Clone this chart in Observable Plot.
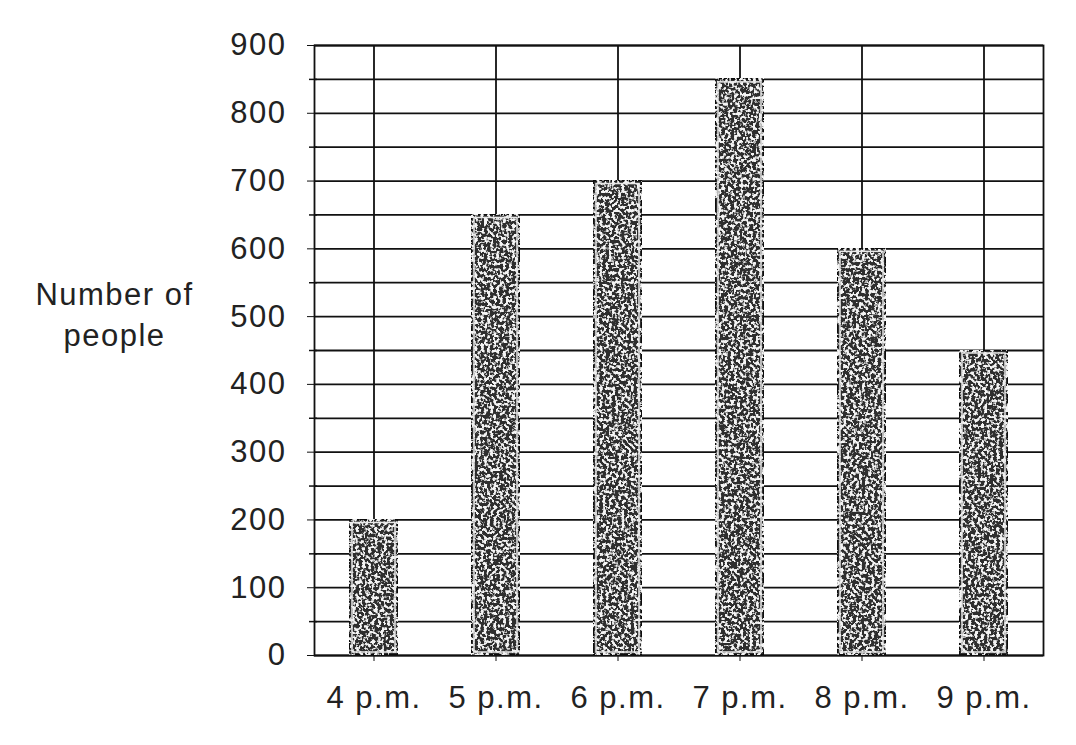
<!DOCTYPE html>
<html>
<head>
<meta charset="utf-8">
<script src="https://cdn.jsdelivr.net/npm/d3@7"></script>
<script src="https://cdn.jsdelivr.net/npm/@observablehq/plot@0.6"></script>
<style>
  html, body { margin: 0; padding: 0; background: #fff; }
  #chart { width: 1076px; height: 745px; }
  #chart svg text { letter-spacing: 1.5px; }
</style>
</head>
<body>
<div id="chart"></div>
<script>
const times = ["4 p.m.", "5 p.m.", "6 p.m.", "7 p.m.", "8 p.m.", "9 p.m."];
const people = [200, 650, 700, 850, 600, 450];
const majorTicks = [0, 100, 200, 300, 400, 500, 600, 700, 800, 900];
const minorTicks = [50, 150, 250, 350, 450, 550, 650, 750, 850];
const gridValues = [0, 50, 100, 150, 200, 250, 300, 350, 400, 450, 500, 550, 600, 650, 700, 750, 800, 850, 900];
const yLabel = "Number of\npeople";

const data = times.map((t, i) => ({time: t, people: people[i]}));

const chart = Plot.plot({
  width: 1076,
  height: 745,
  marginLeft: 314,
  marginRight: 33,
  marginTop: 45,
  marginBottom: 90,
  style: {fontFamily: "'Liberation Sans', Arial, sans-serif", fontSize: "31px", color: "#222", background: "#fff"},
  x: {domain: times, paddingInner: 0.6, paddingOuter: 0.28, label: null},
  y: {domain: [0, 900], label: null},
  marks: [
    Plot.gridY(gridValues, {stroke: "#111", strokeOpacity: 1, strokeWidth: 1.8}),
    Plot.gridX(times, {stroke: "#111", strokeOpacity: 1, strokeWidth: 1.8}),
    Plot.frame({stroke: "#111", strokeWidth: 1.8}),
    Plot.barY(data, {x: "time", y: "people", fill: "#2f2f2f", stroke: "#111", strokeWidth: 2, className: "speckled"}),
    Plot.barY(data, {x: "time", y: "people", fill: "none", stroke: "#e8e8e8", strokeWidth: 1.5, inset: 3}),
    Plot.axisY(majorTicks, {tickSize: 7, tickPadding: 21, label: null, stroke: "#111", fontSize: 31}),
    Plot.tickY(minorTicks, {y: d => d, frameAnchor: "left", stroke: "#111", strokeWidth: 1.5}),
    Plot.axisX({tickSize: 6, tickPadding: 24, label: null, stroke: "#111", fontSize: 31}),
    Plot.text([yLabel], {text: d => d, frameAnchor: "left", dx: -200, dy: -38, textAnchor: "middle", fontSize: 31, lineHeight: 1.3, fill: "#222"})
  ]
});

// speckle texture filter for bars
const svg = d3.select(chart);
const defs = svg.insert("defs", ":first-child");
const f = defs.append("filter").attr("id", "speckle").attr("x", 0).attr("y", 0).attr("width", 1).attr("height", 1);
f.append("feTurbulence").attr("type", "fractalNoise").attr("baseFrequency", 0.32).attr("numOctaves", 2).attr("seed", 3).attr("result", "noise");
f.append("feColorMatrix").attr("in", "noise").attr("type", "matrix")
  .attr("values", "0 0 0 0 0.9  0 0 0 0 0.9  0 0 0 0 0.9  8 0 0 0 -3.9").attr("result", "dots");
f.append("feComposite").attr("in", "dots").attr("in2", "SourceGraphic").attr("operator", "in").attr("result", "clipped");
const m = f.append("feMerge");
m.append("feMergeNode").attr("in", "SourceGraphic");
m.append("feMergeNode").attr("in", "clipped");
svg.selectAll("g.speckled rect").attr("filter", "url(#speckle)");

// minor tick marks: short, outside the axis
svg.selectAll("g[aria-label='tick'] line").each(function() {
  const l = d3.select(this);
  const x1 = +l.attr("x1");
  l.attr("x1", x1 - 5).attr("x2", x1 + 3);
});

document.getElementById("chart").appendChild(chart);
</script>
</body>
</html>
